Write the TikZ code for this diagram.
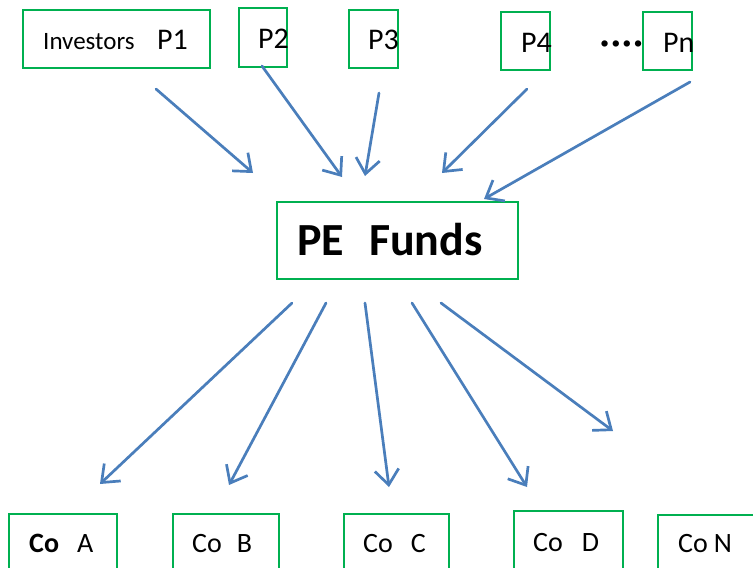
\documentclass[tikz,border=0pt]{standalone}
\usepackage{fontspec}
\setmainfont{Carlito}
\usetikzlibrary{arrows.meta}
\definecolor{boxgreen}{HTML}{00B050}
\definecolor{arrowblue}{HTML}{4A7EBB}
\begin{document}
\begin{tikzpicture}[x=1pt,y=-1pt,
  box/.style={draw=boxgreen, line width=2pt, inner sep=0pt, anchor=north west},
  flow/.style={draw=arrowblue, line width=2.7pt, line cap=round,
    -{Straight Barb[length=15pt,width=24pt,line width=2.7pt]}},
  lbl/.style={anchor=base west, inner sep=0pt, font=\fontsize{30}{36}\selectfont},
  sml/.style={anchor=base west, inner sep=0pt, font=\fontsize{25}{30}\selectfont},
  co/.style={anchor=base west, inner sep=0pt, font=\fontsize{28}{34}\selectfont},
  big/.style={anchor=base west, inner sep=0pt, font=\fontsize{46}{54}\selectfont\bfseries}]
\useasboundingbox (0,0) rectangle (753,568);
\clip (0,0) rectangle (753,568);
% boxes
\node[box, minimum width=187pt, minimum height=58pt] (bP1) at (22,9) {};
\node[box, minimum width=48pt, minimum height=59pt] (bP2) at (238,7) {};
\node[box, minimum width=49pt, minimum height=58pt] (bP3) at (348,9) {};
\node[box, minimum width=49pt, minimum height=58pt] (bP4) at (500,11) {};
\node[box, minimum width=49pt, minimum height=58pt] (bPn) at (642,11) {};
\node[box, minimum width=241pt, minimum height=77pt] (bPE) at (276,201) {};
\node[box, minimum width=108pt, minimum height=70pt] (bA) at (8,513) {};
\node[box, minimum width=106pt, minimum height=70pt] (bB) at (172,513) {};
\node[box, minimum width=105pt, minimum height=70pt] (bC) at (343,513) {};
\node[box, minimum width=109pt, minimum height=73pt] (bD) at (513,510) {};
\node[box, minimum width=115pt, minimum height=69pt] (bN) at (657,514) {};
% labels
\node[sml] (tInv) at (43,49) {Investors};
\node[lbl] (tP1) at (157,49) {P1};
\node[lbl] (tP2) at (258,48) {P2};
\node[lbl] (tP3) at (368,49) {P3};
\node[lbl] (tP4) at (521,52) {P4};
\node[lbl, font=\fontsize{34}{40}\selectfont\bfseries] (tDots) at (600,53) {·\hspace{2pt}·\hspace{2pt}·\hspace{2pt}·};
\node[lbl] (tPn) at (663,52) {Pn};
\node[big] (tPE) at (297,255) {PE\hspace{25pt}Funds};
\node[co] (tA) at (29,552) {\textbf{Co}\hspace{18pt}A};
\node[co] (tB) at (192,552) {Co\hspace{15pt}B};
\node[co] (tC) at (363,552) {Co\hspace{18pt}C};
\node[co] (tD) at (533,551) {Co\hspace{19pt}D};
\node[co] (tN) at (678,552) {Co\hspace{6pt}N};
% arrow end points
\coordinate (s1) at (156,89);  \coordinate (e1) at (253,173);
\coordinate (s2) at (262,66);  \coordinate (e2) at (342,177);
\coordinate (s3) at (379,93);  \coordinate (e3) at (365,176);
\coordinate (s4) at (527,89);  \coordinate (e4) at (442,173);
\coordinate (s5) at (690,82);  \coordinate (e5) at (484,199);
\coordinate (d1) at (292,303); \coordinate (f1) at (100,484);
\coordinate (d2) at (326,303); \coordinate (f2) at (229,485);
\coordinate (d3) at (365,303); \coordinate (f3) at (389,487);
\coordinate (d4) at (412,303); \coordinate (f4) at (527,487);
\coordinate (d5) at (441,303); \coordinate (f5) at (613,431);
\foreach \a/\b in {s1/e1,s2/e2,s3/e3,s4/e4,s5/e5,d1/f1,d2/f2,d3/f3,d4/f4,d5/f5}
  \draw[flow] (\a) -- (\b);
\end{tikzpicture}
\end{document}
